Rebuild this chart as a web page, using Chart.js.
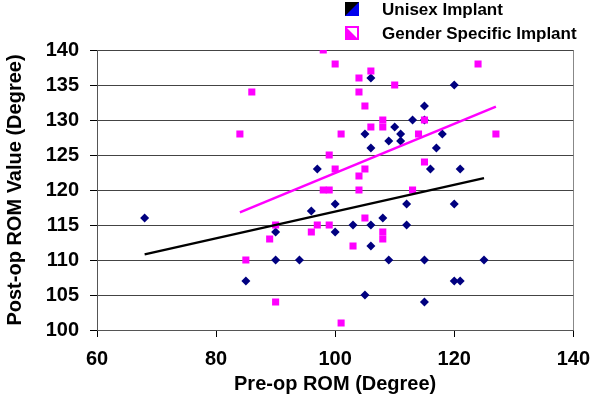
<!DOCTYPE html>
<html>
<head>
<meta charset="utf-8">
<script src="https://cdn.jsdelivr.net/npm/chart.js@4.4.0/dist/chart.umd.min.js"></script>
<style>
  html, body { margin: 0; padding: 0; background: #fff; }
  #wrap { width: 600px; height: 403px; }
</style>
</head>
<body>
<div id="wrap"><canvas id="romChart" width="600" height="403"></canvas></div>
<script>
// Unisex implant: pre-op / post-op ROM
const unisexPre  = [68, 85, 90, 90, 94, 96, 97, 100, 100, 103, 105, 105, 106, 106, 106, 106, 108, 109, 109, 110, 111, 111, 112, 112, 113, 115, 115, 115, 115, 116, 117, 118, 120, 120, 120, 121, 121, 125];
const unisexPost = [116, 107, 114, 110, 110, 117, 123, 118, 114, 115, 128, 105, 136, 126, 115, 112, 116, 127, 110, 129, 128, 127, 118, 115, 130, 132, 130, 110, 104, 123, 126, 128, 135, 118, 107, 123, 107, 110];

// Gender specific implant
const genderPre  = [84, 85, 86, 89, 90, 90, 96, 97, 98, 98, 99, 99, 99, 100, 100, 101, 101, 103, 104, 104, 104, 104, 105, 105, 105, 106, 106, 108, 108, 108, 108, 110, 113, 114, 115, 115, 124, 127];
const genderPost = [128, 110, 134, 113, 115, 104, 114, 115, 140, 120, 125, 120, 115, 138, 123, 128, 101, 112, 136, 134, 122, 120, 132, 123, 116, 137, 129, 130, 129, 114, 113, 135, 120, 128, 130, 124, 138, 128];

// Linear trend lines (end points)
const unisexTrendX = [68, 125];
const unisexTrendY = [110.8, 121.7];
const genderTrendX = [84, 127];
const genderTrendY = [116.8, 131.9];

const xTicks = [60, 80, 100, 120, 140];
const yTicks = [100, 105, 110, 115, 120, 125, 130, 135, 140];

const FONT = '"Liberation Sans", Arial, Helvetica, sans-serif';

function toPoints(xs, ys) {
    return xs.map((x, i) => ({ x: x, y: ys[i] }));
}

// Excel style legend in the top right corner
const legendPlugin = {
    id: 'cornerLegend',
    afterDraw(chart) {
        const ctx = chart.ctx;
        const items = [
            { text: 'Unisex Implant', y: 2, kind: 'unisex' },
            { text: 'Gender Specific Implant', y: 26, kind: 'gender' }
        ];
        ctx.save();
        items.forEach(item => {
            const bx = 345, by = item.y, s = 14;
            if (item.kind === 'unisex') {
                ctx.fillStyle = '#0000ee';
                ctx.fillRect(bx, by, s, s);
                ctx.fillStyle = '#000';
                ctx.beginPath();
                ctx.moveTo(bx, by);
                ctx.lineTo(bx + s, by);
                ctx.lineTo(bx, by + s);
                ctx.closePath();
                ctx.fill();
            } else {
                ctx.fillStyle = '#ff00ff';
                ctx.fillRect(bx, by, s, s);
                ctx.fillStyle = '#fff';
                ctx.beginPath();
                ctx.moveTo(bx + 2, by + 2);
                ctx.lineTo(bx + s - 2, by + 2);
                ctx.lineTo(bx + s - 2, by + s - 2);
                ctx.closePath();
                ctx.fill();
            }
            ctx.fillStyle = '#000';
            ctx.font = 'bold 17px ' + FONT;
            ctx.textBaseline = 'middle';
            ctx.textAlign = 'left';
            ctx.fillText(item.text, 382, by + s / 2 + 1);
        });
        ctx.restore();
    }
};

const ctx = document.getElementById('romChart').getContext('2d');

new Chart(ctx, {
    type: 'scatter',
    data: {
        datasets: [
            {
                label: 'Gender Specific trend',
                data: toPoints(genderTrendX, genderTrendY),
                showLine: true,
                borderColor: '#ff00ff',
                borderWidth: 2.5,
                pointRadius: 0,
                order: 0
            },
            {
                label: 'Unisex trend',
                data: toPoints(unisexTrendX, unisexTrendY),
                showLine: true,
                borderColor: '#000000',
                borderWidth: 2.5,
                pointRadius: 0,
                order: 1
            },
            {
                label: 'Gender Specific Implant',
                data: toPoints(genderPre, genderPost),
                pointStyle: 'rect',
                pointRadius: 5,
                backgroundColor: '#ff00ff',
                borderColor: '#ff00ff',
                borderWidth: 0,
                order: 2
            },
            {
                label: 'Unisex Implant',
                data: toPoints(unisexPre, unisexPost),
                pointStyle: 'rectRot',
                pointRadius: 4.5,
                backgroundColor: '#000080',
                borderColor: '#000080',
                borderWidth: 0,
                order: 3
            }
        ]
    },
    options: {
        responsive: false,
        animation: false,
        layout: { padding: { top: 50, right: 19, left: 0, bottom: 0 } },
        plugins: {
            legend: { display: false },
            tooltip: { enabled: false }
        },
        scales: {
            x: {
                type: 'linear',
                min: 60,
                max: 140,
                afterBuildTicks: scale => { scale.ticks = xTicks.map(v => ({ value: v })); },
                afterFit: scale => { scale.height = 73; },
                border: { color: '#555', width: 1 },
                grid: {
                    color: c => (c.tick && c.tick.value === 140 ? '#888' : 'rgba(0,0,0,0)'),
                    tickColor: '#000',
                    tickLength: 7
                },
                ticks: {
                    color: '#000',
                    padding: 10,
                    maxRotation: 0,
                    font: { family: FONT, size: 20, weight: 'bold' }
                },
                title: {
                    display: true,
                    text: 'Pre-op ROM (Degree)',
                    color: '#000',
                    padding: { top: 0, bottom: 7 },
                    font: { family: FONT, size: 20, weight: 'bold' }
                }
            },
            y: {
                type: 'linear',
                min: 100,
                max: 140,
                afterBuildTicks: scale => { scale.ticks = yTicks.map(v => ({ value: v })); },
                afterFit: scale => { scale.width = 97; },
                border: { color: '#555', width: 1 },
                grid: {
                    color: '#444',
                    tickColor: '#000',
                    tickLength: 7
                },
                ticks: {
                    color: '#000',
                    padding: 11,
                    font: { family: FONT, size: 20, weight: 'bold' }
                },
                title: {
                    display: true,
                    text: 'Post-op ROM Value (Degree)',
                    color: '#000',
                    padding: { top: 3, bottom: 0 },
                    font: { family: FONT, size: 20, weight: 'bold' }
                }
            }
        }
    },
    plugins: [legendPlugin]
});
</script>
</body>
</html>
